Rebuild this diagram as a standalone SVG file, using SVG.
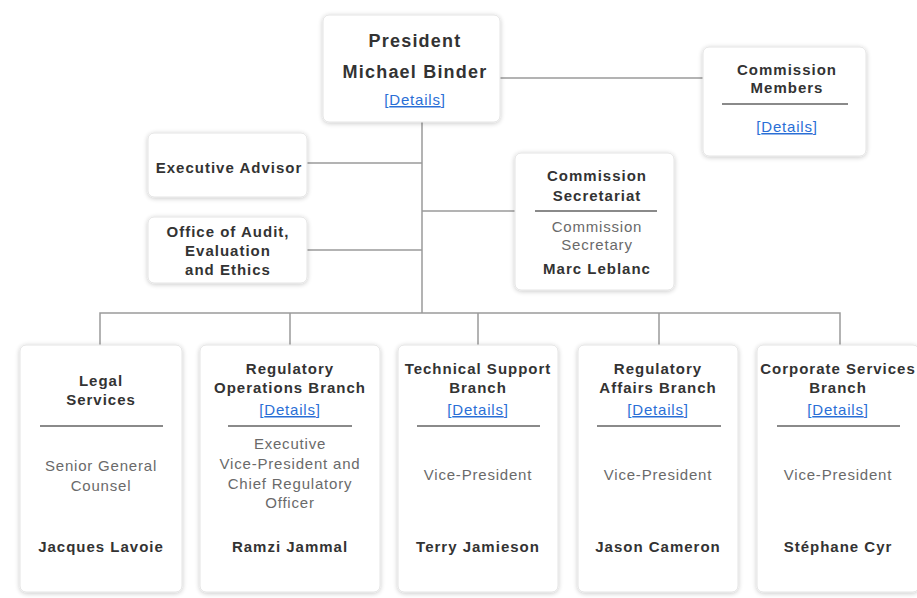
<svg xmlns="http://www.w3.org/2000/svg" width="917" height="598" viewBox="0 0 917 598">
<defs>
<filter id="sh" x="-10%" y="-10%" width="120%" height="120%">
<feGaussianBlur in="SourceAlpha" stdDeviation="2.5"/>
<feOffset dx="0" dy="1"/>
<feComponentTransfer><feFuncA type="linear" slope="0.22"/></feComponentTransfer>
<feMerge><feMergeNode/><feMergeNode in="SourceGraphic"/></feMerge>
</filter>
<style>
.box{fill:#fff;stroke:#e4e4e4;stroke-width:1;filter:url(#sh)}
text{font-family:"Liberation Sans",Arial,sans-serif;text-anchor:middle}
.t{font-size:15px;font-weight:bold;fill:#333;letter-spacing:1px}
.big{font-size:18px;font-weight:bold;fill:#333;letter-spacing:1.2px}
.g{font-size:15px;fill:#6a6a6a;letter-spacing:0.8px}
.lnk{font-size:15px;fill:#2a6fd6;letter-spacing:0.8px}
.sep{stroke:#8a8a8a;stroke-width:2}
.c{stroke:#9a9a9a;stroke-width:1.5;fill:none}
</style>
</defs>
<rect width="917" height="598" fill="#fff"/>
<g id="connectors">
<line class="c" x1="500" y1="78" x2="703" y2="78"/>
<line class="c" x1="422" y1="122" x2="422" y2="313"/>
<line class="c" x1="307" y1="163" x2="422" y2="163"/>
<line class="c" x1="307" y1="250" x2="422" y2="250"/>
<line class="c" x1="422" y1="211" x2="515" y2="211"/>
<polyline class="c" points="100,345 100,313 840,313 840,345"/>
<line class="c" x1="290" y1="313" x2="290" y2="345"/>
<line class="c" x1="478" y1="313" x2="478" y2="345"/>
<line class="c" x1="659" y1="313" x2="659" y2="345"/>
</g>
<g id="president">
<rect class="box" x="323" y="15" width="177" height="107" rx="6"/>
<text class="big" x="415" y="47">President</text>
<text class="big" x="415" y="78">Michael Binder</text>
<text class="lnk" x="415" y="105">[<tspan text-decoration="underline">Details</tspan>]</text>
</g>
<g id="commission-members">
<rect class="box" x="703" y="47" width="163" height="109" rx="6"/>
<text class="t" x="787" y="75">Commission</text>
<text class="t" x="787" y="93">Members</text>
<line class="sep" x1="722" y1="104" x2="848" y2="104"/>
<text class="lnk" x="787" y="132">[<tspan text-decoration="underline">Details</tspan>]</text>
</g>
<g id="executive-advisor">
<rect class="box" x="148" y="133" width="159" height="64" rx="6"/>
<text class="t" x="229" y="173">Executive Advisor</text>
</g>
<g id="office-audit">
<rect class="box" x="148" y="217" width="159" height="66" rx="6"/>
<text class="t" x="228" y="237">Office of Audit,</text>
<text class="t" x="228" y="256">Evaluation</text>
<text class="t" x="228" y="275">and Ethics</text>
</g>
<g id="commission-secretariat">
<rect class="box" x="515" y="153" width="159" height="137" rx="6"/>
<text class="t" x="597" y="181">Commission</text>
<text class="t" x="597" y="201">Secretariat</text>
<line class="sep" x1="535" y1="211" x2="657" y2="211"/>
<text class="g" x="597" y="232">Commission</text>
<text class="g" x="597" y="250">Secretary</text>
<text class="t" x="597" y="274">Marc Leblanc</text>
</g>
<g id="legal-services">
<rect class="box" x="20" y="345" width="162" height="247" rx="6"/>
<text class="t" x="101" y="386">Legal</text>
<text class="t" x="101" y="405">Services</text>
<line class="sep" x1="40" y1="426" x2="163" y2="426"/>
<text class="g" x="101" y="471">Senior General</text>
<text class="g" x="101" y="491">Counsel</text>
<text class="t" x="101" y="552">Jacques Lavoie</text>
</g>
<g id="regulatory-operations">
<rect class="box" x="200" y="345" width="180" height="247" rx="6"/>
<text class="t" x="290" y="374">Regulatory</text>
<text class="t" x="290" y="393">Operations Branch</text>
<text class="lnk" x="290" y="415">[<tspan text-decoration="underline">Details</tspan>]</text>
<line class="sep" x1="228" y1="426" x2="352" y2="426"/>
<text class="g" x="290" y="449">Executive</text>
<text class="g" x="290" y="469">Vice-President and</text>
<text class="g" x="290" y="489">Chief Regulatory</text>
<text class="g" x="290" y="508">Officer</text>
<text class="t" x="290" y="552">Ramzi Jammal</text>
</g>
<g id="technical-support">
<rect class="box" x="398" y="345" width="160" height="247" rx="6"/>
<text class="t" x="478" y="374">Technical Support</text>
<text class="t" x="478" y="393">Branch</text>
<text class="lnk" x="478" y="415">[<tspan text-decoration="underline">Details</tspan>]</text>
<line class="sep" x1="417" y1="426" x2="540" y2="426"/>
<text class="g" x="478" y="480">Vice-President</text>
<text class="t" x="478" y="552">Terry Jamieson</text>
</g>
<g id="regulatory-affairs">
<rect class="box" x="578" y="345" width="160" height="247" rx="6"/>
<text class="t" x="658" y="374">Regulatory</text>
<text class="t" x="658" y="393">Affairs Branch</text>
<text class="lnk" x="658" y="415">[<tspan text-decoration="underline">Details</tspan>]</text>
<line class="sep" x1="597" y1="426" x2="721" y2="426"/>
<text class="g" x="658" y="480">Vice-President</text>
<text class="t" x="658" y="552">Jason Cameron</text>
</g>
<g id="corporate-services">
<rect class="box" x="757" y="345" width="162" height="247" rx="6"/>
<text class="t" x="838" y="374">Corporate Services</text>
<text class="t" x="838" y="393">Branch</text>
<text class="lnk" x="838" y="415">[<tspan text-decoration="underline">Details</tspan>]</text>
<line class="sep" x1="777" y1="426" x2="900" y2="426"/>
<text class="g" x="838" y="480">Vice-President</text>
<text class="t" x="838" y="552">Stéphane Cyr</text>
</g>
</svg>
